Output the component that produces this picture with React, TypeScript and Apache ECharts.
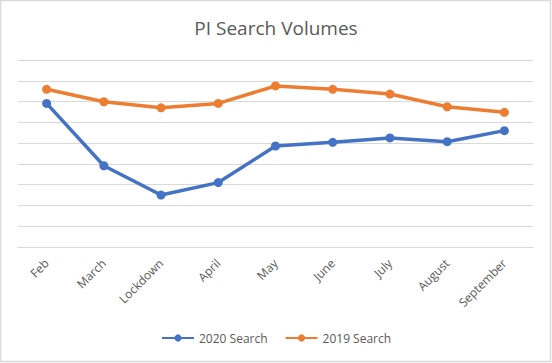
import React, { useEffect, useRef } from "react";
import * as echarts from "echarts";

const categories = ["Feb", "March", "Lockdown", "April", "May", "June", "July", "August", "September"];
const search2020 = [6.91, 3.91, 2.5, 3.1, 4.86, 5.04, 5.25, 5.07, 5.6];
const search2019 = [7.59, 6.99, 6.7, 6.91, 7.75, 7.59, 7.36, 6.75, 6.48];

export default function App() {
  const ref = useRef<HTMLDivElement>(null);
  useEffect(() => {
    const chart = echarts.init(ref.current!, null, { renderer: "svg" });
    const font = "'Open Sans', 'Noto Sans', sans-serif";
    chart.setOption({
      animation: false,
      backgroundColor: "#ffffff",
      textStyle: { fontFamily: font },
      title: {
        text: "PI Search Volumes",
        left: "center",
        top: 13,
        textStyle: { fontFamily: font, fontSize: 19, fontWeight: "normal", color: "#595959" },
      },
      legend: {
        bottom: 14,
        left: 156,
        itemWidth: 32,
        itemHeight: 9,
        itemGap: 17,
        textStyle: { fontFamily: font, fontSize: 12, color: "#595959" },
        data: ["2020 Search", "2019 Search"],
      },
      grid: { left: 18, right: 19, top: 60, bottom: 116, containLabel: false },
      xAxis: {
        type: "category",
        data: categories,
        boundaryGap: true,
        axisLine: { show: true, lineStyle: { color: "#d9d9d9", width: 1 } },
        axisTick: { show: false },
        axisLabel: { rotate: 45, color: "#595959", fontSize: 12, margin: 14, interval: 0, fontFamily: font },
      },
      yAxis: {
        type: "value",
        min: 0,
        max: 9,
        interval: 1,
        axisLabel: { show: false },
        axisLine: { show: false },
        axisTick: { show: false },
        splitLine: { lineStyle: { color: "#d9d9d9", width: 1 } },
      },
      series: [
        {
          name: "2020 Search",
          type: "line",
          data: search2020,
          symbol: "circle",
          symbolSize: 9,
          lineStyle: { color: "#4472C4", width: 3.5 },
          itemStyle: { color: "#4472C4" },
        },
        {
          name: "2019 Search",
          type: "line",
          data: search2019,
          symbol: "circle",
          symbolSize: 9,
          lineStyle: { color: "#ED7D31", width: 3.5 },
          itemStyle: { color: "#ED7D31" },
        },
      ],
      graphic: [
        {
          type: "rect",
          shape: { x: 0.5, y: 0.5, width: 550, height: 361 },
          style: { fill: "none", stroke: "#d9d9d9", lineWidth: 1.5 },
          silent: true,
        },
      ],
    });
    return () => chart.dispose();
  }, []);
  return (
    <div
      ref={ref}
      style={{ position: "fixed", left: 0, top: 0, width: 552, height: 363 }}
    />
  );
}
